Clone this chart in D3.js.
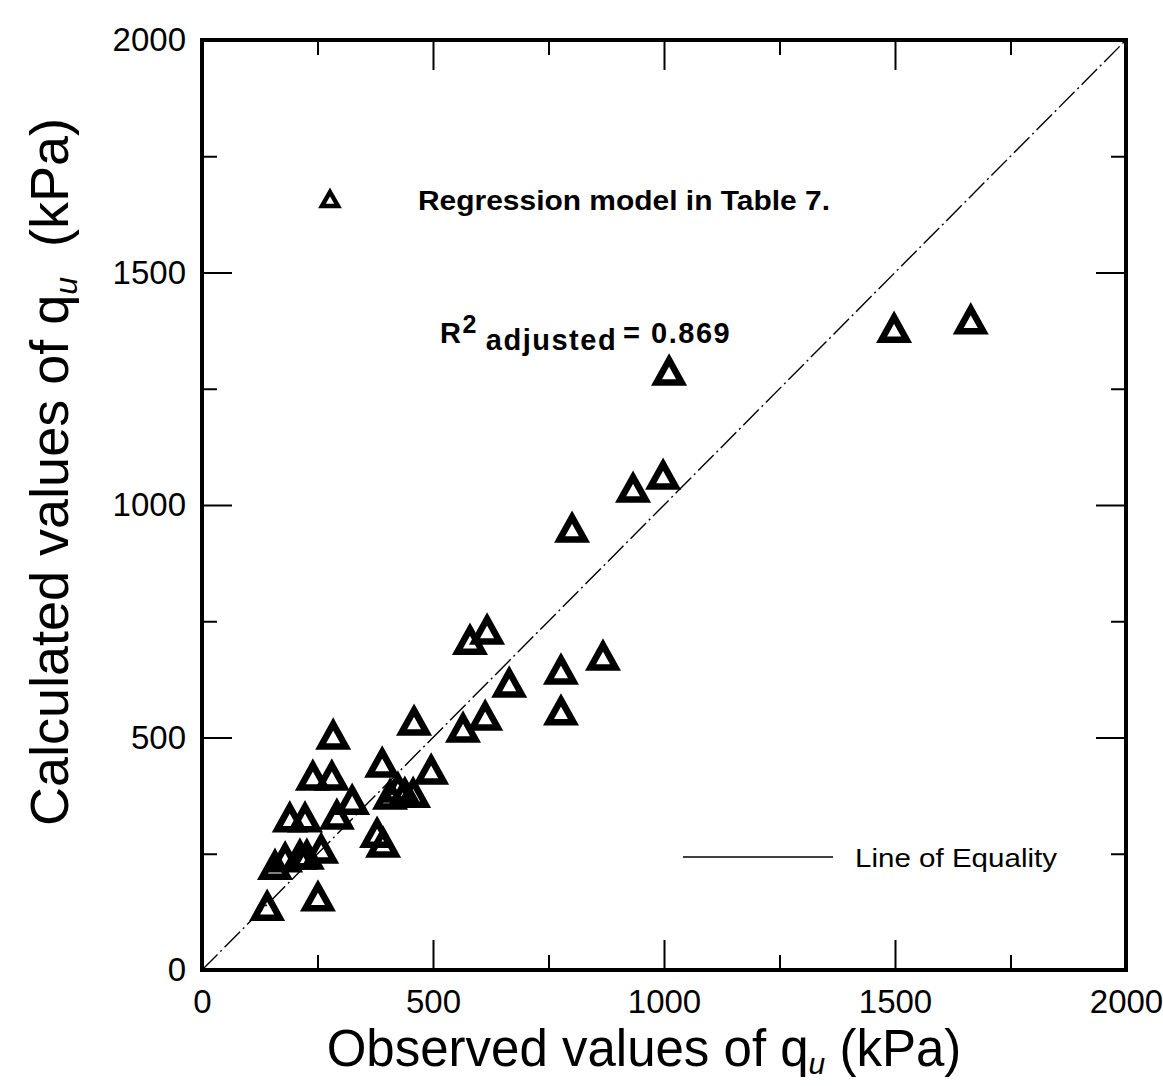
<!DOCTYPE html>
<html>
<head>
    <meta charset="utf-8">
    <title>qu chart</title>
    <script src="https://cdn.jsdelivr.net/npm/d3@7"></script>
    <style>
        * { padding: 0; margin: 0; }
        body { background: #fff; overflow: hidden; }
        text { font-family: "Liberation Sans", Arial, sans-serif; fill: #000; }
    </style>
</head>
<body>
<div id="chart"></div>
<script>
    // observed vs calculated qu (kPa)
    const observed = [141, 251, 158, 180, 212, 227, 258, 190, 223, 292, 325, 240, 281, 284, 390,
        407, 424, 439, 457, 379, 392, 496, 459, 565, 613, 580, 617, 665, 777, 868, 777,
        801, 933, 998, 1011, 1498, 1664]
    const calculated = [133, 153, 221, 237, 243, 243, 256, 323, 323, 329, 361, 413, 413, 501, 441,
        372, 387, 376, 376, 290, 269, 426, 531, 516, 542, 705, 727, 613, 641, 671, 553,
        946, 1032, 1060, 1284, 1376, 1394]
    const majorTicks = [0, 500, 1000, 1500, 2000]
    const minorTicks = [250, 750, 1250, 1750]
    const equality = [0, 2000]

    const W = 1163, H = 1086
    const x = d3.scaleLinear().domain([0, 2000]).range([202, 1126])
    const y = d3.scaleLinear().domain([0, 2000]).range([970, 40])

    const svg = d3.select('#chart').append('svg')
        .attr('width', W).attr('height', H)
    svg.append('rect').attr('width', W).attr('height', H).attr('fill', '#fff')

    // line of equality
    svg.append('line')
        .attr('x1', x(equality[0])).attr('y1', y(equality[0]))
        .attr('x2', x(equality[1])).attr('y2', y(equality[1]))
        .attr('stroke', '#000').attr('stroke-width', 1.4)
        .attr('stroke-dasharray', '22,4,2,4')

    // axes: ticks inside on all four sides
    function styleAxis(g, fs) {
        g.select('.domain').remove()
        g.selectAll('.tick line').attr('stroke', '#000').attr('stroke-width', 2)
        g.selectAll('.tick text').attr('font-size', fs).attr('fill', '#000')
            .attr('font-family', '"Liberation Sans", Arial, sans-serif')
    }
    function addAxis(axis, tx, ty, ticks, len, labels, pad) {
        const g = svg.append('g').attr('transform', 'translate(' + tx + ',' + ty + ')')
        g.call(axis.tickValues(ticks).tickSize(-len).tickPadding(pad || 3)
            .tickFormat(labels ? d3.format('d') : ''))
        styleAxis(g, 33)
        return g
    }
    addAxis(d3.axisBottom(x), 0, 970, majorTicks, 30, true, 20)
    addAxis(d3.axisBottom(x), 0, 970, minorTicks, 15, false)
    addAxis(d3.axisLeft(y), 202, 0, majorTicks, 30, true, 16)
    addAxis(d3.axisLeft(y), 202, 0, minorTicks, 15, false)
    addAxis(d3.axisTop(x), 0, 40, majorTicks, 30, false)
    addAxis(d3.axisTop(x), 0, 40, minorTicks, 15, false)
    addAxis(d3.axisRight(y), 1126, 0, majorTicks, 30, false)
    addAxis(d3.axisRight(y), 1126, 0, minorTicks, 15, false)

    // frame
    svg.append('rect')
        .attr('x', x(0)).attr('y', y(2000))
        .attr('width', x(2000) - x(0)).attr('height', y(0) - y(2000))
        .attr('fill', 'none').attr('stroke', '#000').attr('stroke-width', 4)

    // open triangles
    const tri = 'M0,-13L12.5,9.5L-12.5,9.5Z'
    svg.append('g').selectAll('path')
        .data(observed.map((d, i) => [d, calculated[i]]))
        .join('path')
        .attr('d', tri)
        .attr('transform', d => 'translate(' + x(d[0]) + ',' + y(d[1]) + ')')
        .attr('fill', 'none')
        .attr('stroke', '#000')
        .attr('stroke-width', 6.5)
        .attr('stroke-linejoin', 'miter')

    // legend for the series
    svg.append('path')
        .attr('d', 'M0,-8L8,6L-8,6Z')
        .attr('transform', 'translate(330,200)')
        .attr('fill', 'none').attr('stroke', '#000').attr('stroke-width', 4.5)
    svg.append('text')
        .attr('x', 418).attr('y', 210)
        .attr('font-size', 27).attr('font-weight', 'bold')
        .attr('textLength', 412).attr('lengthAdjust', 'spacingAndGlyphs')
        .text('Regression model in Table 7.')

    const r2 = svg.append('text')
        .attr('x', 440).attr('y', 343)
        .attr('font-size', 29).attr('font-weight', 'bold')
        .attr('letter-spacing', 1.5)
    r2.append('tspan').text('R')
    r2.append('tspan').attr('dy', -10).attr('font-size', 25).text('2')
    r2.append('tspan').attr('dy', 17).attr('dx', 8).text('adjusted')
    r2.append('tspan').attr('dy', -7).attr('dx', 6).text('= 0.869')

    // legend for the equality line
    svg.append('line')
        .attr('x1', 683).attr('x2', 833).attr('y1', 857).attr('y2', 857)
        .attr('stroke', '#000').attr('stroke-width', 1.5)
    svg.append('text')
        .attr('x', 855).attr('y', 867)
        .attr('font-size', 26)
        .attr('textLength', 202).attr('lengthAdjust', 'spacingAndGlyphs')
        .text('Line of Equality')

    // axis titles
    const xt = svg.append('text')
        .attr('x', 644).attr('y', 1066)
        .attr('text-anchor', 'middle')
        .attr('font-size', 51)
    xt.append('tspan').text('Observed values of q')
    xt.append('tspan').attr('font-size', 30).attr('font-style', 'italic').attr('dy', 8).text('u')
    xt.append('tspan').attr('dy', -8).text('\u00a0(kPa)')

    const yt = svg.append('text')
        .attr('transform', 'translate(68,472) rotate(-90)')
        .attr('text-anchor', 'middle')
        .attr('font-size', 54)
    yt.append('tspan').text('Calculated values of q')
    yt.append('tspan').attr('font-size', 32).attr('font-style', 'italic').attr('dy', 9).text('u')
    yt.append('tspan').attr('dy', -9).text('\u00a0\u00a0(kPa)')
</script>
</body>
</html>
